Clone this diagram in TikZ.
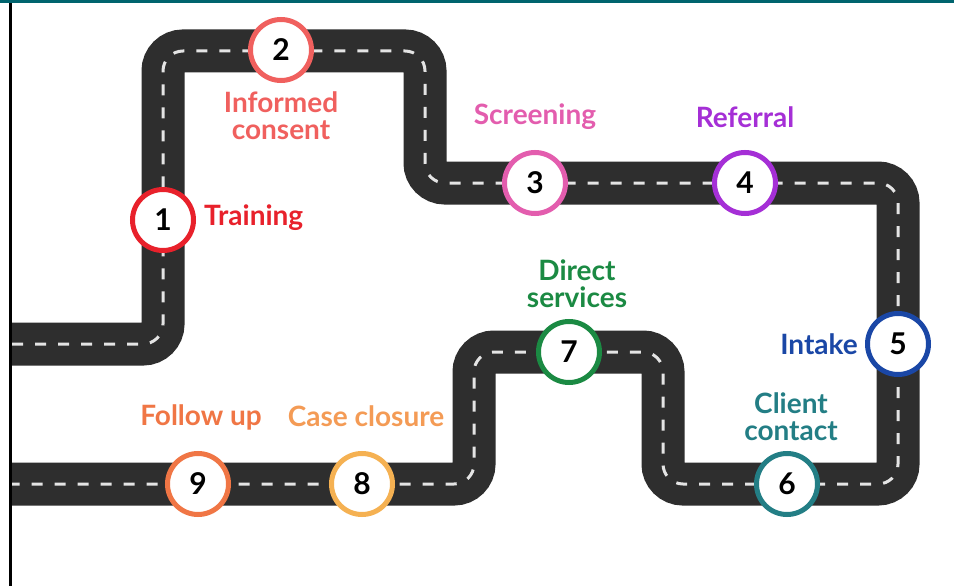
\documentclass[tikz,border=0pt]{standalone}
\usepackage{fontspec}
\setmainfont{Lato}
\usetikzlibrary{
    positioning,
}
\definecolor{RoadGray}{HTML}{2E2E2E}
\definecolor{LaneWhite}{HTML}{E4E4E4}
\definecolor{FrameTeal}{HTML}{00646E}
\definecolor{TrainingRed}{HTML}{E8212B}
\definecolor{ConsentRed}{HTML}{F0605E}
\definecolor{ScreenPink}{HTML}{E35DAE}
\definecolor{ReferPurple}{HTML}{A52FD6}
\definecolor{IntakeBlue}{HTML}{1A47A6}
\definecolor{ContactTeal}{HTML}{237E85}
\definecolor{DirectGreen}{HTML}{1B8A43}
\definecolor{ClosureOrange}{HTML}{F5B152}
\definecolor{ClosureText}{HTML}{F49B55}
\definecolor{FollowOrange}{HTML}{F07645}
\tikzstyle{road}=[draw=RoadGray,line width=43pt,rounded corners=20pt]
\tikzstyle{lane}=[draw=LaneWhite,line width=3pt,rounded corners=20pt,dash pattern=on 11pt off 12pt]
\tikzstyle{stop}=[draw,circle,fill=white,line width=5pt,minimum size=61pt,inner sep=0pt,font=\fontsize{30}{30}\selectfont\bfseries]
\tikzstyle{tag}=[font=\fontsize{28}{27}\selectfont\bfseries,align=center,inner sep=1pt]
\tikzset{
    x=1pt,y=-1pt
}
\newcommand{\Stop}[4]{%
    \node[stop,draw=#3] (#1) at (#2) {#4};
}

\begin{document}
\begin{tikzpicture}
    \useasboundingbox[fill=white] (0,0) rectangle (954,586);

    % Road
    \draw[road] (12,344) -- (163,344) -- (163,51) -- (425,51) -- (425,183)
        -- (898,183) -- (898,484) -- (663,484) -- (663,352) -- (474,352)
        -- (474,484) -- (12,484);
    \draw[lane] (12,344) -- (163,344) -- (163,51) -- (425,51) -- (425,183)
        -- (898,183) -- (898,484) -- (663,484) -- (663,352) -- (474,352)
        -- (474,484) -- (12,484);

    % Frame
    \fill[FrameTeal] (0,0) rectangle (954,3);
    \fill[black] (9,3) rectangle (11.5,586);

    % Stops
    \Stop{s1}{163,220}{TrainingRed}{1};
    \Stop{s2}{281,50}{ConsentRed}{2};
    \Stop{s3}{535,183}{ScreenPink}{3};
    \Stop{s4}{745,183}{ReferPurple}{4};
    \Stop{s5}{898,344}{IntakeBlue}{5};
    \Stop{s6}{787,484}{ContactTeal}{6};
    \Stop{s7}{569,352}{DirectGreen}{7};
    \Stop{s8}{362,484}{ClosureOrange}{8};
    \Stop{s9}{198,484}{FollowOrange}{9};

    % Labels
    \node[tag,text=TrainingRed,right=7pt of s1,yshift=2pt] (l1) {Training};
    \node[tag,text=ConsentRed,below=7pt of s2] (l2) {Informed\\consent};
    \node[tag,text=ScreenPink,above=19pt of s3] (l3) {Screening};
    \node[tag,text=ReferPurple,above=21pt of s4] (l4) {Referral};
    \node[tag,text=IntakeBlue,left=6pt of s5] (l5) {Intake};
    \node[tag,text=ContactTeal,above=9pt of s6,xshift=4pt] (l6) {Client\\contact};
    \node[tag,text=DirectGreen,above=10pt of s7,xshift=8pt] (l7) {Direct\\services};
    \node[tag,text=ClosureText,above=23pt of s8,xshift=4pt] (l8) {Case closure};
    \node[tag,text=FollowOrange,above=20pt of s9,xshift=3pt] (l9) {Follow up};
\end{tikzpicture}
\end{document}
